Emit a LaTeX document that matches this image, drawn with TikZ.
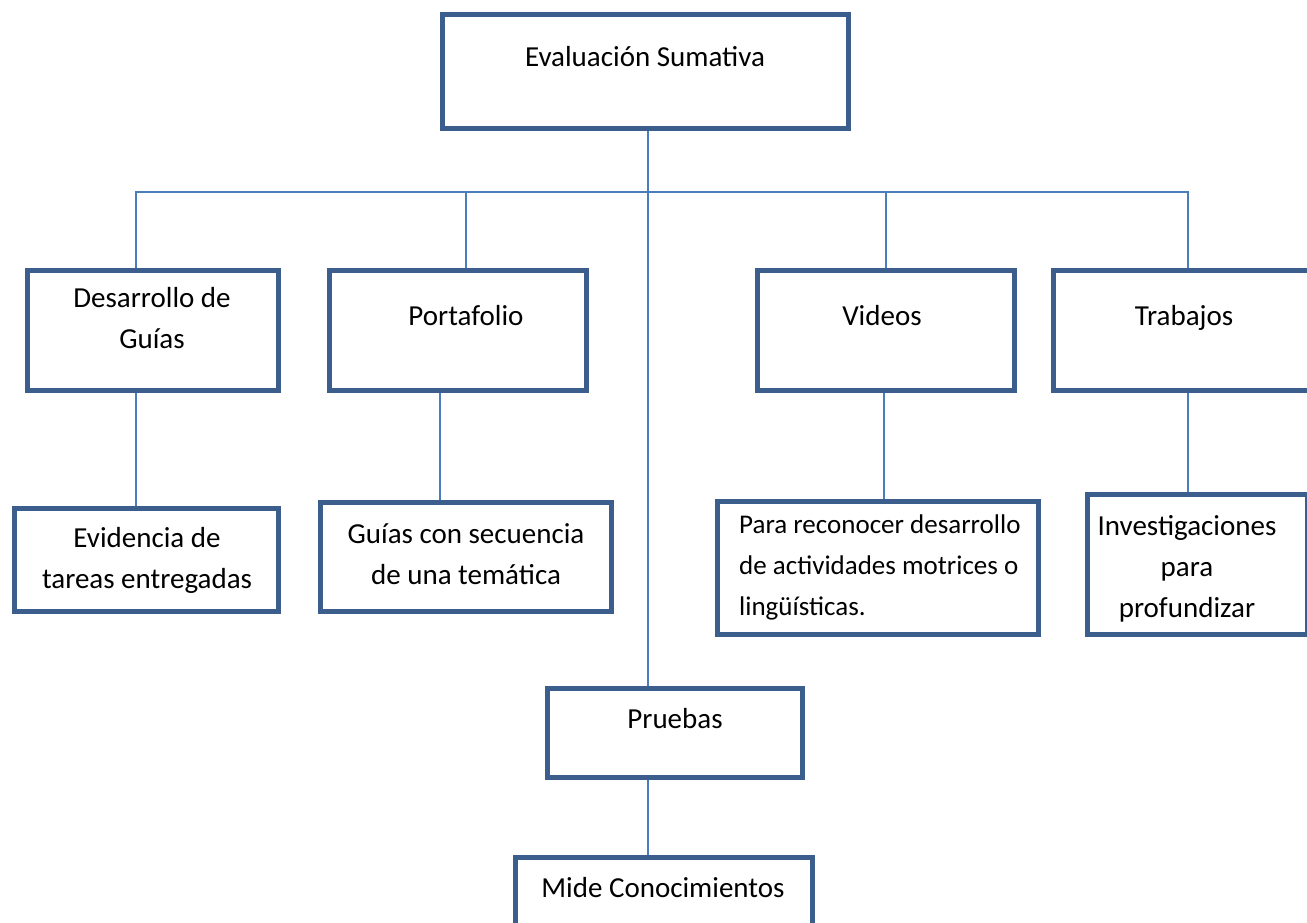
\documentclass[tikz,border=0pt]{standalone}
\usepackage{fontspec}
\setmainfont{Carlito}
\usetikzlibrary{positioning}

\definecolor{borde}{HTML}{3B5E8C}
\definecolor{enlace}{HTML}{4A7EBB}

\tikzset{
  caja/.style={draw=borde, line width=5pt, rectangle, inner sep=0pt},
  texto/.style={font=\fontsize{29}{41}\selectfont, anchor=base, inner sep=0pt, align=center},
  linea/.style={draw=enlace, line width=1.6pt}
}

\begin{document}
\begin{tikzpicture}[x=1pt, y=-1pt]
		\useasboundingbox (0,0) rectangle (1307,922);
		% Cajas
		\node[caja, minimum width=406, minimum height=114] (eval) at (645.5,71.5) {};
		\node[caja, minimum width=251, minimum height=120] (desG) at (153,330.5) {};
		\node[caja, minimum width=257, minimum height=120] (port) at (458,330.5) {};
		\node[caja, minimum width=257, minimum height=120] (vid) at (886,330.5) {};
		\node[caja, minimum width=269, minimum height=120] (trab) at (1188,330.5) {};
		\node[caja, minimum width=264, minimum height=103] (evid) at (146.5,560) {};
		\node[caja, minimum width=291, minimum height=109] (guias) at (466,557) {};
		\node[caja, minimum width=321, minimum height=133] (para) at (878,568) {};
		\node[caja, minimum width=220, minimum height=140] (inv) at (1197.5,564.5) {};
		\node[caja, minimum width=255, minimum height=89] (pruebas) at (675,733) {};
		\node[caja, minimum width=297, minimum height=100] (mide) at (664,907) {};

		% Textos (base = ultima linea)
		\node[texto] (evalT) at (645,66) {Evaluación Sumativa};
		\node[texto] (desGT) at (152,348) {Desarrollo de\\Guías};
		\node[texto] (portT) at (466,325) {Portafolio};
		\node[texto] (vidT) at (882,325) {Videos};
		\node[texto] (trabT) at (1184,325) {Trabajos};
		\node[texto] (evidT) at (147,588) {Evidencia de\\tareas entregadas};
		\node[texto] (guiasT) at (466,584) {Guías con secuencia\\de una temática};
		\node[texto, font=\fontsize{27}{41}\selectfont, align=left, anchor=base west] (paraT) at (739,615)
			{Para reconocer desarrollo\\de actividades motrices o\\lingüísticas.};
		\node[texto] (invT) at (1187,617) {Investigaciones\\para\\profundizar};
		\node[texto] (pruebasT) at (675,728) {Pruebas};
		\node[texto] (mideT) at (663,897) {Mide Conocimientos};

		% Conectores
		\coordinate (tronco) at (648,192);
		\coordinate (b1) at (136,192);
		\coordinate (b2) at (466,192);
		\coordinate (b3) at (886,192);
		\coordinate (b4) at (1188,192);
		\draw[linea] (tronco |- eval.south) -- (tronco |- pruebas.north);
		\draw[linea] (b1 |- desG.north) -- (b1) -- (b4) -- (b4 |- trab.north);
		\draw[linea] (b2) -- (b2 |- port.north);
		\draw[linea] (b3) -- (b3 |- vid.north);
		\draw[linea] (b1 |- desG.south) -- (b1 |- evid.north);
		\draw[linea] (440,0 |- port.south) -- (440,0 |- guias.north);
		\draw[linea] (884,0 |- vid.south) -- (884,0 |- para.north);
		\draw[linea] (b4 |- trab.south) -- (b4 |- inv.north);
		\draw[linea] (tronco |- pruebas.south) -- (tronco |- mide.north);
	\end{tikzpicture}
\end{document}
